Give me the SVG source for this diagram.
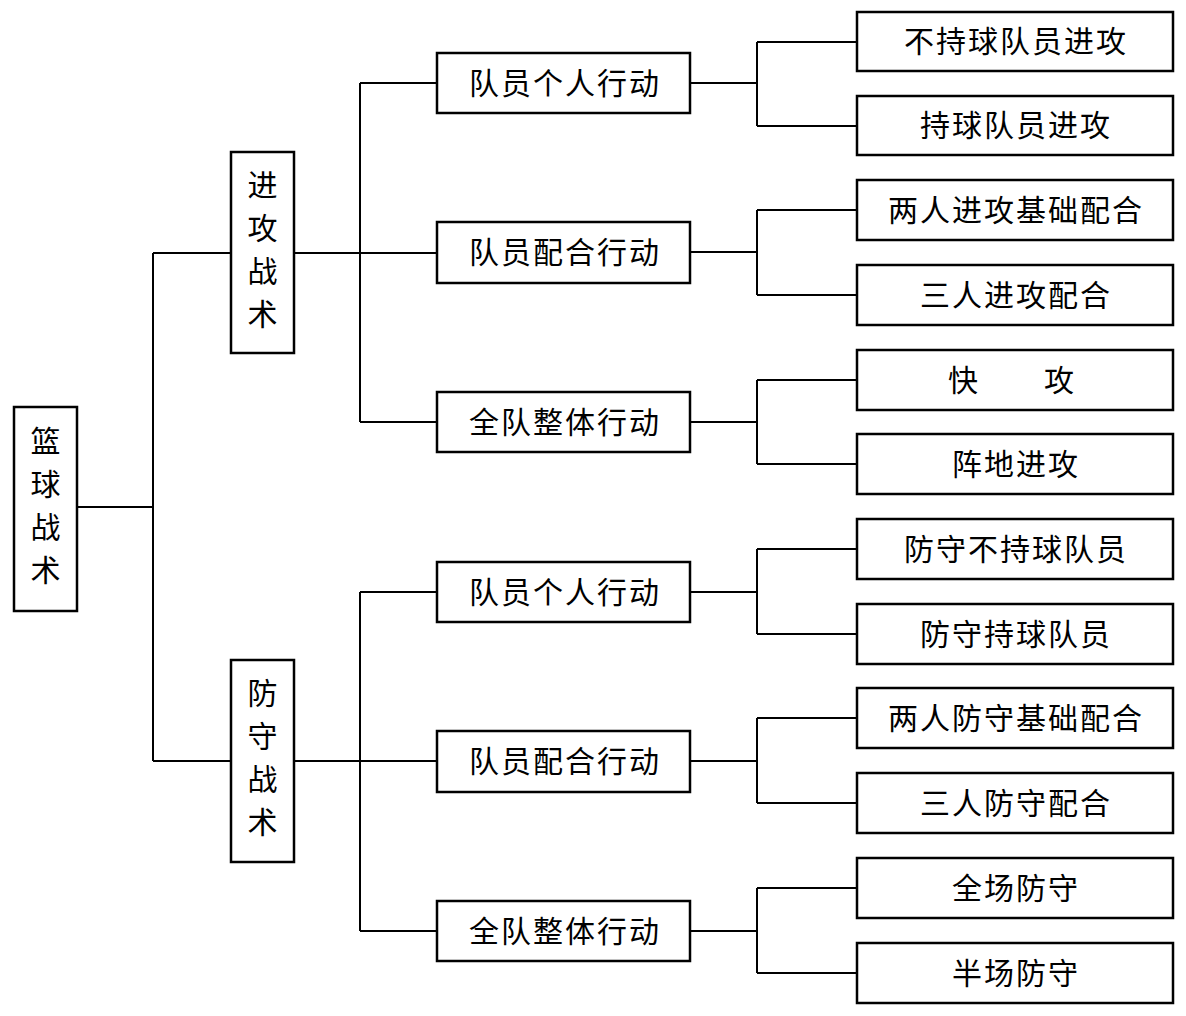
<svg xmlns="http://www.w3.org/2000/svg" width="1186" height="1016" viewBox="0 0 1186 1016">
<style>
rect{fill:#fff;stroke:#000;stroke-width:2.5}
.c path{fill:none;stroke:#000;stroke-width:2}
text{font-family:"Noto Sans CJK SC","Noto Sans CJK JP",sans-serif;font-size:30px;fill:#000;text-anchor:middle;dominant-baseline:central;letter-spacing:2px;transform:translateY(-2px)}
.v{letter-spacing:0}
</style>
<rect x="0" y="0" width="1186" height="1016" style="fill:#fff;stroke:none"/>
<g class="c">
<path d="M77 507H153M153 253V761M153 253H231M153 761H231"/>
<path d="M294 253H437M360 83V422M360 83H437M360 422H437"/>
<path d="M294 761H437M360 592V931M360 592H437M360 931H437"/>
<path d="M690 83H757M757 42V126M757 42H857M757 126H857"/>
<path d="M690 252H757M757 210V295M757 210H857M757 295H857"/>
<path d="M690 422H757M757 380V464M757 380H857M757 464H857"/>
<path d="M690 592H757M757 549V634M757 549H857M757 634H857"/>
<path d="M690 761H757M757 718V803M757 718H857M757 803H857"/>
<path d="M690 931H757M757 888V973M757 888H857M757 973H857"/>
</g>
<g id="root"><rect x="14" y="407" width="63" height="204"/><text class="v" x="45.5"><tspan x="45.5" y="441">篮</tspan><tspan x="45.5" y="484">球</tspan><tspan x="45.5" y="527">战</tspan><tspan x="45.5" y="570">术</tspan></text></g>
<g id="attack"><rect x="231" y="152" width="63" height="201"/><text class="v"><tspan x="262.5" y="185">进</tspan><tspan x="262.5" y="228">攻</tspan><tspan x="262.5" y="271">战</tspan><tspan x="262.5" y="314">术</tspan></text></g>
<g id="defense"><rect x="231" y="660" width="63" height="202"/><text class="v"><tspan x="262.5" y="693">防</tspan><tspan x="262.5" y="736">守</tspan><tspan x="262.5" y="779">战</tspan><tspan x="262.5" y="822">术</tspan></text></g>
<g id="a1"><rect x="437" y="53" width="253" height="60"/><text x="565" y="83">队员个人行动</text></g>
<g id="a2"><rect x="437" y="222" width="253" height="61"/><text x="565" y="252">队员配合行动</text></g>
<g id="a3"><rect x="437" y="392" width="253" height="60"/><text x="565" y="422">全队整体行动</text></g>
<g id="d1"><rect x="437" y="562" width="253" height="60"/><text x="565" y="592">队员个人行动</text></g>
<g id="d2"><rect x="437" y="731" width="253" height="61"/><text x="565" y="761">队员配合行动</text></g>
<g id="d3"><rect x="437" y="901" width="253" height="60"/><text x="565" y="931">全队整体行动</text></g>
<g id="a11"><rect x="857" y="12" width="316" height="59"/><text x="1016" y="41">不持球队员进攻</text></g>
<g id="a12"><rect x="857" y="96" width="316" height="59"/><text x="1016" y="125">持球队员进攻</text></g>
<g id="a21"><rect x="857" y="180" width="316" height="60"/><text x="1016" y="210">两人进攻基础配合</text></g>
<g id="a22"><rect x="857" y="265" width="316" height="60"/><text x="1016" y="295">三人进攻配合</text></g>
<g id="a31"><rect x="857" y="350" width="316" height="60"/><text x="1012" y="380">快　　攻</text></g>
<g id="a32"><rect x="857" y="434" width="316" height="60"/><text x="1016" y="464">阵地进攻</text></g>
<g id="d11"><rect x="857" y="519" width="316" height="60"/><text x="1016" y="549">防守不持球队员</text></g>
<g id="d12"><rect x="857" y="604" width="316" height="60"/><text x="1016" y="634">防守持球队员</text></g>
<g id="d21"><rect x="857" y="688" width="316" height="60"/><text x="1016" y="718">两人防守基础配合</text></g>
<g id="d22"><rect x="857" y="773" width="316" height="60"/><text x="1016" y="803">三人防守配合</text></g>
<g id="d31"><rect x="857" y="858" width="316" height="60"/><text x="1016" y="888">全场防守</text></g>
<g id="d32"><rect x="857" y="943" width="316" height="60"/><text x="1016" y="973">半场防守</text></g>
</svg>
